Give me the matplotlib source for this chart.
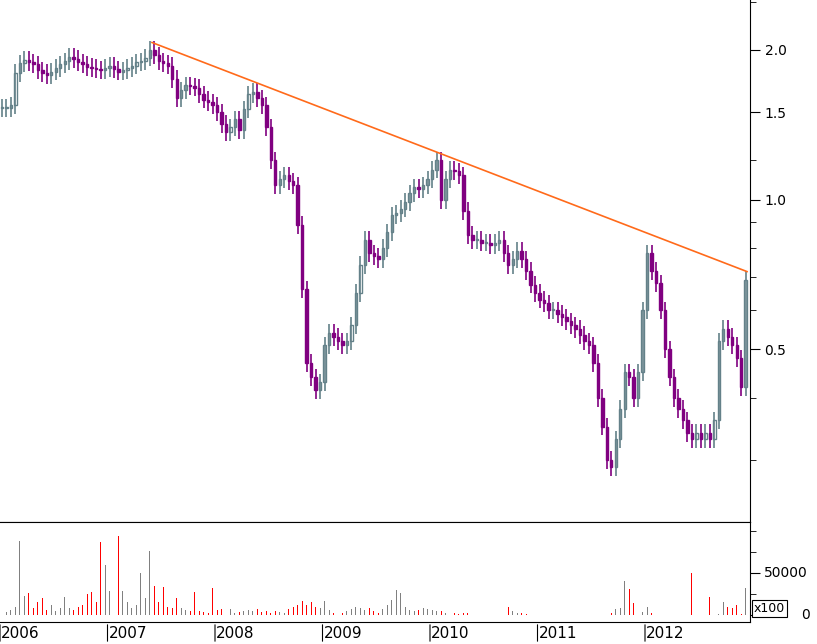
import numpy as np
import matplotlib
matplotlib.use("Agg")
import matplotlib.pyplot as plt
from matplotlib.ticker import FixedLocator, NullFormatter

# semi-monthly bars starting Jan 2006
closes = [1.53,1.53,1.55,1.80,1.88,1.91,1.89,1.87,1.82,1.80,1.78,1.81,1.84,1.87,1.90,1.94,1.92,1.89,1.87,1.85,
          1.84,1.83,1.82,1.84,1.86,1.83,1.81,1.82,1.84,1.86,1.89,1.90,1.93,2.00,1.95,1.90,1.88,1.86,1.75,1.60,
          1.66,1.70,1.69,1.68,1.63,1.59,1.57,1.55,1.50,1.42,1.37,1.40,1.45,1.38,1.52,1.63,1.65,1.60,1.55,1.40,
          1.20,1.07,1.10,1.12,1.09,1.07,0.89,0.66,0.47,0.44,0.415,0.43,0.51,0.54,0.53,0.52,0.51,0.52,0.56,0.65,
          0.74,0.83,0.78,0.77,0.76,0.80,0.86,0.93,0.94,0.96,0.99,1.03,1.06,1.05,1.07,1.10,1.15,1.20,1.00,1.10,
          1.15,1.14,1.12,0.95,0.85,0.83,0.83,0.82,0.82,0.81,0.82,0.83,0.78,0.74,0.76,0.79,0.76,0.72,0.675,0.65,
          0.63,0.62,0.60,0.60,0.59,0.58,0.57,0.56,0.55,0.535,0.52,0.51,0.47,0.40,0.35,0.30,0.29,0.33,0.38,0.45,
          0.44,0.40,0.45,0.60,0.78,0.72,0.68,0.60,0.50,0.44,0.40,0.38,0.36,0.34,0.33,0.34,0.33,0.34,0.33,0.36,
          0.52,0.55,0.53,0.51,0.48,0.42,0.69]
volumes = [5000,4000,6000,10000,88000,23000,26000,8000,15000,20000,6000,12000,5000,8000,22000,8000,6000,10000,12000,25000,
           27000,15000,87000,60000,28000,25000,94000,28000,15000,8000,12000,50000,20000,76000,35000,15000,33000,10000,8000,20000,
           8000,6000,5000,27000,5000,4000,3000,32000,6000,7000,5000,7000,3000,4000,5000,6000,5000,7000,4000,5000,
           3000,5000,4000,3000,7000,10000,12000,17000,12000,16000,10000,8000,17000,6000,3000,2000,2000,5000,7000,10000,
           8000,6000,8000,5000,3000,7000,12000,18000,30000,26000,10000,6000,5000,6000,8000,7000,6000,5000,5000,3000,
           2000,2000,1500,3000,3000,0,0,0,0,0,0,0,0,9000,5000,3000,3000,1000,600,600,
           0,600,600,0,600,600,600,0,600,600,600,0,600,600,600,600,3000,7000,8000,41000,
           31000,14000,0,4000,9000,2000,0,0,0,0,0,0,0,0,50000,0,0,0,22000,0,
           1000,15000,10000,8000,12000,1000,32000]
year_labels = ["2006","2007","2008","2009","2010","2011","2012"]
trend_dates = [2007.414, 2012.949]
trend_prices = [2.07, 0.717]

n = len(closes)
dates = 2006 + (2 + 4.48*np.arange(n))/107.5
closes = np.array(closes)
opens = np.concatenate([[closes[0]], closes[:-1]])
highs = np.maximum(opens, closes)*1.04
lows = np.minimum(opens, closes)*0.96
up = closes >= opens

UPC = "#648189"; DNC = "#800080"
fig = plt.figure(figsize=(8.17, 6.44), dpi=100)
W, H = 817, 644
ax = fig.add_axes([0, 1-522/H, 750/W, 522/H])
axv = fig.add_axes([0, 22/H, 750/W, 100/H], sharex=ax)

bw = 0.022
for d, o, c, h, l, u in zip(dates, opens, closes, highs, lows, up):
    col = UPC if u else DNC
    ax.vlines(d, l, h, color=col, lw=1.2)
    lo, hi = min(o, c), max(o, c)
    if hi/lo < 1.004:
        hi = lo*1.004
    ax.bar(d, hi-lo, bottom=lo, width=bw, color=("white" if u else DNC), edgecolor=col, lw=1.0)
ax.plot(trend_dates, trend_prices, color="#ff6a1a", lw=1.2)
ax.set_yscale("log")
ax.set_ylim(0.225, 2.52)
ax.set_xlim(2006.0, 2006 + 750/107.5)
ax.yaxis.tick_right()
ax.yaxis.set_major_locator(FixedLocator([0.5, 1.0, 1.5, 2.0]))
ax.yaxis.set_major_formatter(matplotlib.ticker.FixedFormatter(["0.5", "1.0", "1.5", "2.0"]))
ax.yaxis.set_minor_locator(FixedLocator([0.3, 0.4, 0.6, 0.7, 0.8, 0.9, 1.2, 2.5]))
ax.yaxis.set_minor_formatter(NullFormatter())
ax.tick_params(axis="y", which="major", length=7, labelsize=10, direction="out")
ax.tick_params(axis="y", which="minor", length=4, direction="out")
ax.tick_params(axis="x", bottom=False, labelbottom=False)
for s in ["top", "left"]:
    ax.spines[s].set_visible(False)

vcol = [("#808080" if u else "#ff0000") for u in up]
axv.bar(dates, volumes, width=0.009, color=vcol)
axv.set_ylim(-8300, 110700)
axv.yaxis.tick_right()
axv.set_yticks([0, 50000])
axv.set_yticklabels([])
axv.yaxis.set_minor_locator(FixedLocator([25000, 75000, 100000]))
axv.tick_params(axis="y", which="major", length=7)
axv.tick_params(axis="y", which="minor", length=4)
axv.tick_params(axis="x", bottom=False, labelbottom=False)
axv.spines["left"].set_visible(False)
axv.spines["top"].set_visible(True)
ytr = axv.get_yaxis_transform()
axv.text(1.019, 50000, "50000", transform=ytr, fontsize=10, va="center", ha="left")
axv.text(1.068, 0, "0", transform=ytr, fontsize=10, va="center", ha="left")
axv.text(1.005, 0.07, "x100", transform=axv.transAxes, fontsize=9, va="bottom",
         bbox=dict(boxstyle="square,pad=0.15", fc="white", ec="black", lw=0.8))

for i, lab in enumerate(year_labels):
    yr = 2006 + i
    axv.annotate("", xy=(yr, -0.22), xytext=(yr, 0), xycoords=("data", "axes fraction"),
                 arrowprops=dict(arrowstyle="-", lw=0.8, color="black"), annotation_clip=False)
    axv.text(yr + 0.01, -0.12, lab, transform=axv.get_xaxis_transform(), fontsize=11,
             va="center", ha="left", clip_on=False)

fig.savefig("out.png", dpi=100)
